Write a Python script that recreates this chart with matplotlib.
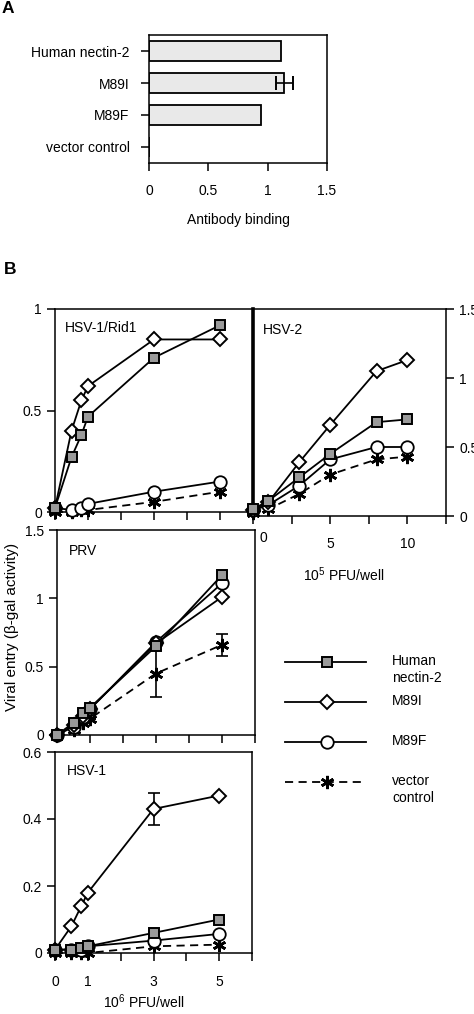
import matplotlib
matplotlib.use("Agg")
import matplotlib.pyplot as plt
from matplotlib.lines import Line2D
from matplotlib.transforms import ScaledTranslation, blended_transform_factory

plt.rcParams["font.family"] = ["Liberation Sans", "DejaVu Sans"]
plt.rcParams["font.size"] = 10
plt.rcParams["axes.linewidth"] = 1.1
plt.rcParams["axes.facecolor"] = "none"
plt.rcParams["xtick.major.width"] = 1.1
plt.rcParams["ytick.major.width"] = 1.1
plt.rcParams["xtick.major.size"] = 6
plt.rcParams["ytick.major.size"] = 6
plt.rcParams["mathtext.default"] = "regular"

# ---------- dados painel A ----------
binding_labels = ["Human nectin-2", "M89I", "M89F", "vector control"]
binding = [1.11, 1.14, 0.94, 0.0]
binding_err = [0.0, 0.07, 0.0, 0.0]

# ---------- dados painel B ----------
series_names = ["Human\nnectin-2", "M89I", "M89F", "vector\ncontrol"]

x_rid1 = [0, 0.5, 0.8, 1, 3, 5]
rid1_nectin = [0.02, 0.27, 0.38, 0.47, 0.76, 0.92]
rid1_m89i = [0.02, 0.40, 0.55, 0.62, 0.85, 0.85]
rid1_m89f = [0.02, 0.01, 0.02, 0.04, 0.10, 0.15]
rid1_vector = [0.0, 0.0, 0.01, 0.01, 0.05, 0.10]

x_hsv2 = [0, 1, 3, 5, 8, 10]
hsv2_nectin = [0.05, 0.11, 0.28, 0.45, 0.68, 0.70]
hsv2_m89i = [0.04, 0.10, 0.39, 0.66, 1.05, 1.13]
hsv2_m89f = [0.04, 0.08, 0.22, 0.41, 0.50, 0.50]
hsv2_vector = [0.02, 0.05, 0.16, 0.30, 0.41, 0.43]

x_prv = [0, 0.5, 0.8, 1, 3, 5]
prv_nectin = [0.0, 0.09, 0.16, 0.20, 0.65, 1.17]
prv_m89i = [0.0, 0.07, 0.14, 0.19, 0.67, 1.01]
prv_m89f = [0.0, 0.06, 0.13, 0.19, 0.68, 1.11]
prv_vector = [0.0, 0.04, 0.09, 0.12, 0.45, 0.66]
prv_vector_err = [0, 0, 0, 0, 0.17, 0.08]

x_hsv1 = [0, 0.5, 0.8, 1, 3, 5]
hsv1_nectin = [0.01, 0.01, 0.015, 0.02, 0.06, 0.10]
hsv1_m89i = [0.01, 0.08, 0.14, 0.18, 0.43, 0.47]
hsv1_m89i_err = [0, 0, 0, 0, 0.048, 0]
hsv1_m89f = [0.01, 0.01, 0.01, 0.02, 0.037, 0.057]
hsv1_vector = [0.0, 0.0, 0.0, 0.0, 0.02, 0.025]

W, H = 474, 1014

# estilos das séries
styles = [
    dict(marker="s", markersize=7.5, markerfacecolor="#9a9a9a", markeredgecolor="black",
         markeredgewidth=1.4, color="black", linewidth=1.3, linestyle="-"),
    dict(marker="D", markersize=7, markerfacecolor="white", markeredgecolor="black",
         markeredgewidth=1.4, color="black", linewidth=1.3, linestyle="-"),
    dict(marker="o", markersize=9, markerfacecolor="white", markeredgecolor="black",
         markeredgewidth=1.3, color="black", linewidth=1.3, linestyle="-"),
    dict(marker=(6, 2, 0), markersize=9.5, markerfacecolor="black", markeredgecolor="black",
         markeredgewidth=1.9, color="black", linewidth=1.3, linestyle=(0, (4.5, 3))),
]


def px_axes(fig, x0, y0, x1, y1):
    return fig.add_axes([x0 / W, 1 - y1 / H, (x1 - x0) / W, (y1 - y0) / H])


def draw_series(ax, x, ys, errs=None):
    # desenha de trás pra frente: vetor, M89F, M89I, nectin
    for i in [3, 2, 1, 0]:
        st = styles[i]
        ax.plot(x, ys[i], clip_on=False, zorder=3 + (3 - i) * 0.1, **st)
        if errs is not None and errs[i] is not None:
            ax.errorbar(x, ys[i], yerr=errs[i], fmt="none", ecolor="black",
                        elinewidth=1.2, capsize=4, capthick=1.2, clip_on=False, zorder=2)


fig = plt.figure(figsize=(W / 100, H / 100), dpi=100)

# ---------- Painel A ----------
axA = px_axes(fig, 149, 35, 327, 163)
pos = list(range(len(binding_labels)))
axA.barh(pos, binding, height=0.65, color="#e9e9e9", edgecolor="black", linewidth=1.3)
axA.errorbar(binding[1], pos[1], xerr=binding_err[1], fmt="none", ecolor="black",
             elinewidth=1.2, capsize=5, capthick=1.4)
axA.set_ylim(3.5, -0.5)
axA.set_xlim(0, 1.5)
axA.set_yticks(pos)
axA.set_yticklabels(binding_labels)
axA.set_xticks([0, 0.5, 1, 1.5])
axA.set_xticklabels(["0", "0.5", "1", "1.5"])
axA.tick_params(axis="x", pad=9)
axA.tick_params(axis="y", pad=8)
axA.set_xlabel("Antibody binding", labelpad=11)
fig.text(2 / W, 1 - 13 / H, "A", fontsize=12.5, fontweight="bold")
fig.text(4 / W, 1 - 274 / H, "B", fontsize=12.5, fontweight="bold")

# ---------- HSV-1/Rid1 ----------
ax1 = px_axes(fig, 55, 309, 253, 512)
draw_series(ax1, x_rid1, [rid1_nectin, rid1_m89i, rid1_m89f, rid1_vector])
ax1.set_xlim(0, 6)
ax1.set_ylim(0, 1)
ax1.set_xticks(range(7))
ax1.set_xticklabels([])
ax1.set_yticks([0, 0.5, 1])
ax1.set_yticklabels(["0", "0.5", "1"])
ax1.text(0.05, 0.94, "HSV-1/Rid1", transform=ax1.transAxes, va="top")

# ---------- HSV-2 ----------
ax2 = px_axes(fig, 253, 309, 446, 516)
draw_series(ax2, x_hsv2, [hsv2_nectin, hsv2_m89i, hsv2_m89f, hsv2_vector])
ax2.set_xlim(0, 12.5)
ax2.set_ylim(0, 1.5)
ax2.set_xticks([0, 2.5, 5, 7.5, 10, 12.5])
ax2.set_xticklabels(["", "", "5", "", "10", ""])
ax2.tick_params(axis="x", pad=9)
ax2.yaxis.tick_right()
ax2.set_yticks([0, 0.5, 1, 1.5])
ax2.set_yticklabels(["0", "0.5", "1", "1.5"])
ax2.spines["left"].set_linewidth(2.6)
ax2.set_xlabel("10$^5$ PFU/well")
ax2.xaxis.set_label_coords(0.47, -0.24)
ax2.text(0.05, 0.93, "HSV-2", transform=ax2.transAxes, va="top")
# no original o "0" fica um pouco à direita do eixo
trans0 = blended_transform_factory(ax2.transData, ax2.transAxes) + \
    ScaledTranslation(10 / 100, -15 / 100, fig.dpi_scale_trans)
ax2.text(0, 0, "0", transform=trans0, ha="center", va="top")

# ---------- PRV ----------
ax3 = px_axes(fig, 57, 530, 255, 735)
draw_series(ax3, x_prv, [prv_nectin, prv_m89i, prv_m89f, prv_vector],
            errs=[None, None, None, prv_vector_err])
ax3.set_xlim(0, 6)
ax3.set_ylim(0, 1.5)
ax3.set_xticks(range(7))
ax3.set_xticklabels([])
ax3.set_yticks([0, 0.5, 1, 1.5])
ax3.set_yticklabels(["0", "0.5", "1", "1.5"])
ax3.text(0.06, 0.93, "PRV", transform=ax3.transAxes, va="top")

# ---------- HSV-1 ----------
ax4 = px_axes(fig, 55, 752, 252, 953)
draw_series(ax4, x_hsv1, [hsv1_nectin, hsv1_m89i, hsv1_m89f, hsv1_vector],
            errs=[None, hsv1_m89i_err, None, None])
ax4.set_xlim(0, 6)
ax4.set_ylim(0, 0.6)
ax4.set_xticks(range(7))
ax4.set_xticklabels(["0", "1", "", "3", "", "5", ""])
ax4.set_yticks([0, 0.2, 0.4, 0.6])
ax4.set_yticklabels(["0", "0.2", "0.4", "0.6"])
ax4.tick_params(axis="x", pad=10)
ax4.set_xlabel("10$^6$ PFU/well")
ax4.xaxis.set_label_coords(0.45, -0.195)
ax4.text(0.06, 0.94, "HSV-1", transform=ax4.transAxes, va="top")

for ax in [ax1, ax2, ax3, ax4]:
    ax.tick_params(direction="out")

fig.text(12 / W, 1 - 627 / H, "Viral entry (\u03b2-gal activity)", rotation=90,
         ha="center", va="center", fontsize=11)

# ---------- legenda (desenhada à mão) ----------
legax = fig.add_axes([0, 0, 1, 1])
legax.set_xlim(0, W)
legax.set_ylim(H, 0)
legax.axis("off")
row_y = [662, 702, 742, 782]
for i, name in enumerate(series_names):
    st = dict(styles[i])
    mk = {k: st.pop(k) for k in ["marker", "markersize", "markerfacecolor",
                                 "markeredgecolor", "markeredgewidth"]}
    legax.add_line(Line2D([285, 366], [row_y[i], row_y[i]], **st))
    legax.add_line(Line2D([327], [row_y[i]], linestyle="none", **mk))
    legax.text(392, row_y[i] - 8, name, va="top", ha="left", linespacing=1.3)

fig.savefig("out.png", dpi=100)
